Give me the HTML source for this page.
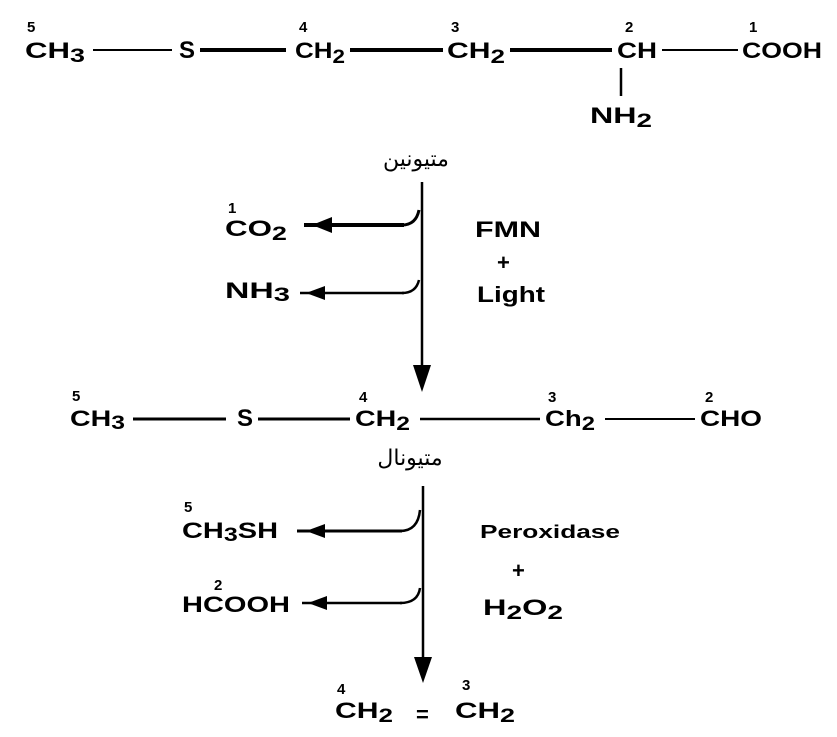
<!DOCTYPE html>
<html><head><meta charset="utf-8"><style>
html,body{margin:0;padding:0;background:#fff;}
svg{display:block;}
text{font-family:"Liberation Sans","DejaVu Sans",sans-serif;font-weight:bold;fill:#000;}
.n{font-size:15px;}
.t{font-size:22px;}
.ar{font-family:"DejaVu Sans",sans-serif;font-weight:normal;font-size:22px;}
</style></head><body>
<svg width="837" height="737" viewBox="0 0 837 737" xmlns="http://www.w3.org/2000/svg">
<g stroke="#000" fill="none">
<line x1="93" y1="50" x2="172" y2="50" stroke-width="2"/>
<line x1="200" y1="50" x2="286" y2="50" stroke-width="4"/>
<line x1="350" y1="50" x2="443" y2="50" stroke-width="4"/>
<line x1="510" y1="50" x2="612" y2="50" stroke-width="4"/>
<line x1="662" y1="50" x2="738" y2="50" stroke-width="2"/>
<line x1="621" y1="68" x2="621" y2="96" stroke-width="2.5"/>
<line x1="133" y1="419" x2="226" y2="419" stroke-width="3"/>
<line x1="258" y1="419" x2="350" y2="419" stroke-width="3"/>
<line x1="420" y1="419" x2="540" y2="419" stroke-width="2.5"/>
<line x1="605" y1="419" x2="695" y2="419" stroke-width="2"/>
<line x1="422" y1="182" x2="422" y2="370" stroke-width="2.5"/>
<path d="M402,225 Q416,225 419,210" stroke-width="3"/>
<line x1="304" y1="225" x2="404" y2="225" stroke-width="4"/>
<path d="M402,293 Q416,293 419,280" stroke-width="2.5"/>
<line x1="300" y1="293" x2="404" y2="293" stroke-width="2.5"/>
<line x1="423" y1="486" x2="423" y2="660" stroke-width="2.5"/>
<path d="M400,531 Q418,531 420,510" stroke-width="2.5"/>
<line x1="297" y1="531" x2="402" y2="531" stroke-width="3"/>
<path d="M400,603 Q418,603 420,588" stroke-width="2.5"/>
<line x1="302" y1="603" x2="402" y2="603" stroke-width="2.5"/>
</g>
<g fill="#000">
<polygon points="413,365 431,365 422,392"/>
<polygon points="414,657 432,657 423,683"/>
<polygon points="312,225 332,217 332,233"/>
<polygon points="306,293 325,286 325,300"/>
<polygon points="306,531 325,524 325,538"/>
<polygon points="308,603 327,596 327,610"/>
</g>
<text class="n" x="27" y="32">5</text>
<text class="t" x="25" y="58" textLength="60" lengthAdjust="spacingAndGlyphs">CH<tspan dy="4" font-size="19">3</tspan></text>
<text x="179" y="58" font-size="24">S</text>
<text class="n" x="299" y="32">4</text>
<text class="t" x="295" y="58" textLength="50" lengthAdjust="spacingAndGlyphs">CH<tspan dy="5" font-size="19">2</tspan></text>
<text class="n" x="451" y="32">3</text>
<text class="t" x="447" y="58" textLength="58" lengthAdjust="spacingAndGlyphs">CH<tspan dy="5" font-size="19">2</tspan></text>
<text class="n" x="625" y="32">2</text>
<text class="t" x="617" y="58" textLength="40" lengthAdjust="spacingAndGlyphs">CH</text>
<text class="n" x="749" y="32">1</text>
<text class="t" x="742" y="58" textLength="80" lengthAdjust="spacingAndGlyphs">COOH</text>
<text class="t" x="590" y="123" textLength="62" lengthAdjust="spacingAndGlyphs">NH<tspan dy="4" font-size="19">2</tspan></text>
<text class="ar" x="416" y="166" text-anchor="middle">متیونین</text>
<text class="n" x="228" y="213">1</text>
<text class="t" x="225" y="236" textLength="62" lengthAdjust="spacingAndGlyphs">CO<tspan dy="4" font-size="19">2</tspan></text>
<text class="t" x="225" y="298" textLength="65" lengthAdjust="spacingAndGlyphs">NH<tspan dy="3" font-size="19">3</tspan></text>
<text class="t" x="475" y="237" textLength="66" lengthAdjust="spacingAndGlyphs">FMN</text>
<text class="t" x="497" y="270">+</text>
<text class="t" x="477" y="302" textLength="68" lengthAdjust="spacingAndGlyphs">Light</text>
<text class="n" x="72" y="401">5</text>
<text class="t" x="70" y="426" textLength="55" lengthAdjust="spacingAndGlyphs">CH<tspan dy="3" font-size="19">3</tspan></text>
<text x="237" y="426" font-size="24">S</text>
<text class="n" x="359" y="402">4</text>
<text class="t" x="355" y="426" textLength="55" lengthAdjust="spacingAndGlyphs">CH<tspan dy="4" font-size="19">2</tspan></text>
<text class="n" x="548" y="402">3</text>
<text class="t" x="545" y="426" textLength="50" lengthAdjust="spacingAndGlyphs">Ch<tspan dy="4" font-size="19">2</tspan></text>
<text class="n" x="705" y="402">2</text>
<text class="t" x="700" y="426" textLength="62" lengthAdjust="spacingAndGlyphs">CHO</text>
<text class="ar" x="410" y="465" text-anchor="middle">متیونال</text>
<text class="n" x="184" y="512">5</text>
<text class="t" x="182" y="538" textLength="96" lengthAdjust="spacingAndGlyphs">CH<tspan dy="3" font-size="19">3</tspan><tspan dy="-3">SH</tspan></text>
<text class="n" x="214" y="590">2</text>
<text class="t" x="182" y="612" textLength="108" lengthAdjust="spacingAndGlyphs">HCOOH</text>
<text x="480" y="538" font-size="18" textLength="140" lengthAdjust="spacingAndGlyphs">Peroxidase</text>
<text class="t" x="512" y="578">+</text>
<text class="t" x="483" y="615" textLength="80" lengthAdjust="spacingAndGlyphs">H<tspan dy="4" font-size="19">2</tspan><tspan dy="-4">O</tspan><tspan dy="4" font-size="19">2</tspan></text>
<text class="n" x="337" y="694">4</text>
<text class="t" x="335" y="718" textLength="58" lengthAdjust="spacingAndGlyphs">CH<tspan dy="4" font-size="19">2</tspan></text>
<text class="t" x="416" y="722">=</text>
<text class="n" x="462" y="690">3</text>
<text class="t" x="455" y="718" textLength="60" lengthAdjust="spacingAndGlyphs">CH<tspan dy="4" font-size="19">2</tspan></text>
</svg>
</body></html>
